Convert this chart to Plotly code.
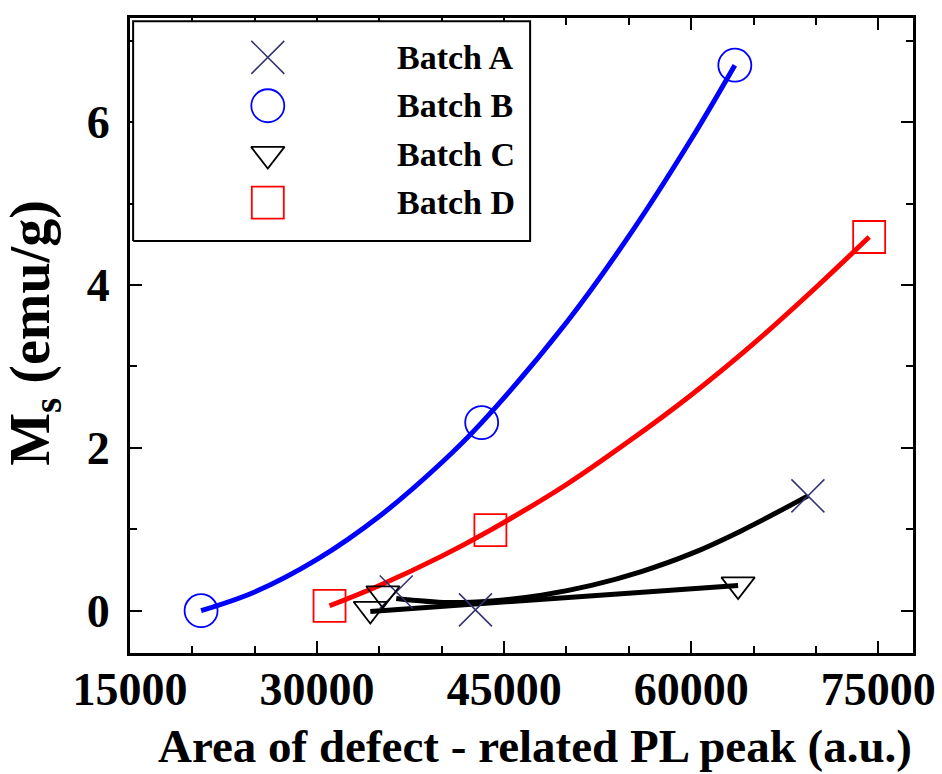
import plotly.graph_objects as go

# ---- data ----
batch_names = ["Batch A", "Batch B", "Batch C", "Batch D"]
batch_a_x = [36350, 42700, 69360]
batch_a_y = [0.23, 0.01, 1.41]
batch_b_x = [20700, 43200, 63500]
batch_b_y = [0.00, 2.31, 6.70]
batch_c_x = [34270, 35280, 63760]
batch_c_y = [0.02, 0.21, 0.32]
batch_d_x = [31000, 43900, 74270]
batch_d_y = [0.06, 0.99, 4.59]

# fitted trend curves
fit_a_x = [36350, 40500, 44000, 48000, 52000, 56000, 60000, 64000, 69360]
fit_a_y = [0.15, 0.10, 0.12, 0.19, 0.31, 0.48, 0.70, 0.98, 1.41]
fit_b_x = [20700, 25000, 30000, 35000, 40000, 43200, 50000, 55000, 60000, 63500]
fit_b_y = [0.00, 0.23, 0.63, 1.16, 1.82, 2.31, 3.54, 4.60, 5.79, 6.70]
fit_c_x = [34270, 63760]
fit_c_y = [-0.01, 0.31]
fit_d_x = [31000, 35000, 40000, 43900, 50000, 55000, 60000, 65000, 70000, 74270]
fit_d_y = [0.06, 0.31, 0.67, 0.99, 1.55, 2.08, 2.65, 3.28, 3.97, 4.59]

x_ticks = [15000, 30000, 45000, 60000, 75000]
y_ticks = [0, 2, 4, 6]

FONT = "Liberation Serif"
NAVY = "rgb(50,50,110)"

styles = [
    dict(symbol="x-thin-open", size=33, color=NAVY, line=dict(color=NAVY, width=1.5)),
    dict(symbol="circle-open", size=33, color="#0000ff", line=dict(color="#0000ff", width=1.8)),
    dict(symbol="triangle-down-open", size=29, color="#000000", line=dict(color="#000000", width=1.8)),
    dict(symbol="square-open", size=32, color="#ff0000", line=dict(color="#ff0000", width=1.8)),
]

fig = go.Figure()

# fit lines
for fx, fy, col in [(fit_b_x, fit_b_y, "#0000ff"), (fit_d_x, fit_d_y, "#ff0000"),
                    (fit_a_x, fit_a_y, "#000000"), (fit_c_x, fit_c_y, "#000000")]:
    fig.add_trace(go.Scatter(x=fx, y=fy, mode="lines", showlegend=False,
                             line=dict(color=col, width=5, shape="spline"),
                             hoverinfo="skip"))

# data markers
for name, xs, ys, st in zip(batch_names,
                            [batch_a_x, batch_b_x, batch_c_x, batch_d_x],
                            [batch_a_y, batch_b_y, batch_c_y, batch_d_y], styles):
    fig.add_trace(go.Scatter(x=xs, y=ys, mode="markers", name=name,
                             showlegend=False, marker=st))

# ---- custom legend (box + large symbols) on an overlay axis in plot fractions ----
LEG_X0, LEG_X1, LEG_Y0, LEG_Y1 = 0.004, 0.511, 0.649, 0.995
LEG_SYM_X, LEG_TXT_X = 0.176, 0.338
LEG_ROW0, LEG_STEP = 0.938, 0.0762

fig.add_trace(go.Scatter(x=[LEG_X0, LEG_X1, LEG_X1, LEG_X0, LEG_X0],
                         y=[LEG_Y0, LEG_Y0, LEG_Y1, LEG_Y1, LEG_Y0],
                         xaxis="x2", yaxis="y2", mode="lines", fill="toself",
                         fillcolor="white", line=dict(color="black", width=2),
                         showlegend=False, hoverinfo="skip"))
for i, (name, st) in enumerate(zip(batch_names, styles)):
    ry = LEG_ROW0 - i * LEG_STEP
    fig.add_trace(go.Scatter(x=[LEG_SYM_X], y=[ry], xaxis="x2", yaxis="y2",
                             mode="markers", marker=st, showlegend=False,
                             hoverinfo="skip"))
    fig.add_annotation(x=LEG_TXT_X, y=ry, xref="x2", yref="y2", text=name,
                       showarrow=False, xanchor="left", yanchor="middle",
                       font=dict(family=FONT, size=34, color="black", weight="bold"))

axis_common = dict(showline=True, linecolor="black", linewidth=3, mirror="allticks",
                   ticks="inside", ticklen=12, tickwidth=2, tickcolor="black",
                   showgrid=False, zeroline=False, automargin=False,
                   layer="below traces",
                   tickfont=dict(family=FONT, size=46, color="black", weight="bold"))

fig.update_xaxes(range=[15000, 77786], tickvals=x_ticks,
                 ticktext=[str(v) for v in x_ticks],
                 minor=dict(dtick=5000, tick0=15000, ticks="inside", ticklen=7,
                            tickwidth=2, tickcolor="black"),
                 ticklabelstandoff=-6, **axis_common)
fig.update_yaxes(range=[-0.52, 7.28], tickvals=y_ticks,
                 minor=dict(dtick=1, tick0=0, ticks="inside", ticklen=7,
                            tickwidth=2, tickcolor="black"),
                 ticklabelstandoff=8, **axis_common)

fig.update_layout(
    xaxis2=dict(overlaying="x", range=[0, 1], visible=False, fixedrange=True),
    yaxis2=dict(overlaying="y", range=[0, 1], visible=False, fixedrange=True),
)

# axis titles
fig.add_annotation(x=0.517, y=-0.1465, xref="paper", yref="paper",
                   text="Area of defect - related PL peak (a.u.)", showarrow=False,
                   xanchor="center", yanchor="middle",
                   font=dict(family=FONT, size=47, color="black", weight="bold"))
fig.add_annotation(x=-0.122, y=0.505, xref="paper", yref="paper",
                   text="M<sub>s</sub> (emu/g)", showarrow=False, textangle=-90,
                   xanchor="center", yanchor="middle",
                   font=dict(family=FONT, size=56, color="black", weight="bold"))

fig.update_layout(
    width=942, height=774,
    margin=dict(l=130, r=29, t=18, b=121),
    plot_bgcolor="white", paper_bgcolor="white",
    showlegend=False,
)

fig.write_html("out.html")
